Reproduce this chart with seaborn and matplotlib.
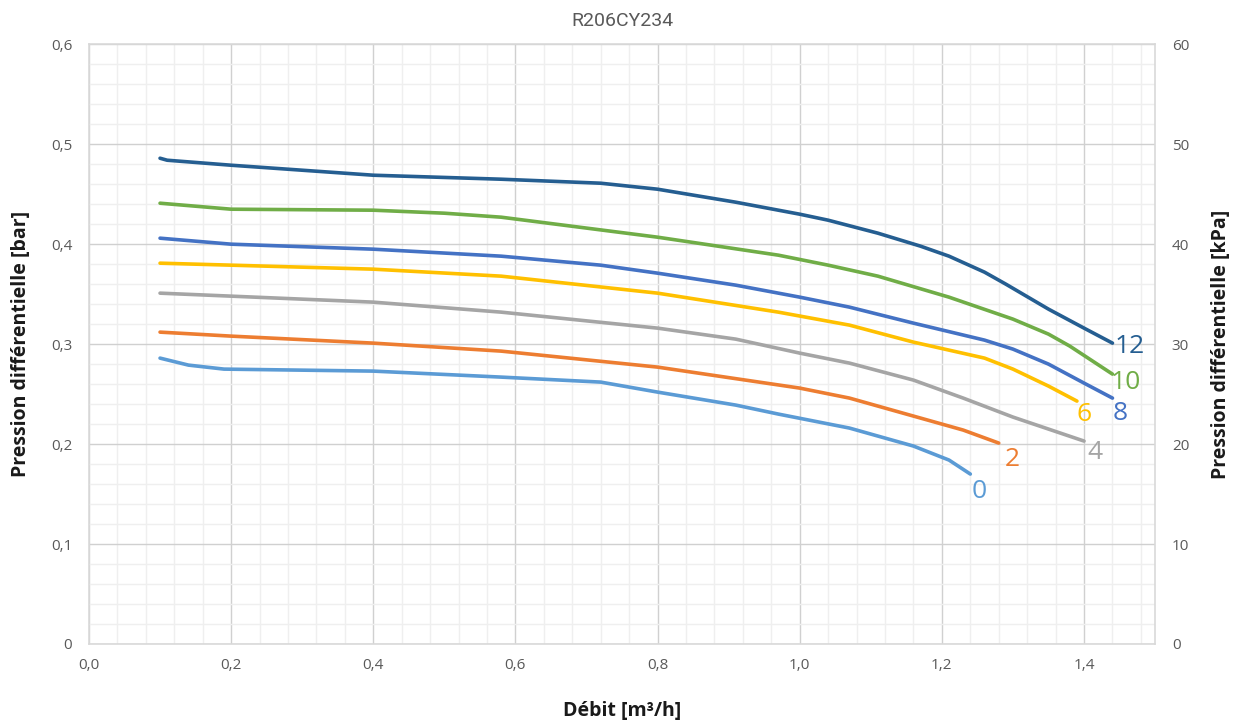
import numpy as np
import pandas as pd
import seaborn as sns
import matplotlib.pyplot as plt
from matplotlib.ticker import FuncFormatter, MultipleLocator

# debit [m3/h] and pressure [bar], one curve per speed setting
q_12 = [0.10, 0.11, 0.20, 0.40, 0.58, 0.72, 0.80, 0.91, 1.00, 1.04, 1.11, 1.17, 1.21, 1.26, 1.29, 1.35, 1.40, 1.44]
p_12 = [0.486, 0.484, 0.479, 0.469, 0.465, 0.461, 0.455, 0.442, 0.430, 0.424, 0.411, 0.398, 0.388, 0.372, 0.360, 0.335, 0.316, 0.301]

q_10 = [0.10, 0.20, 0.40, 0.50, 0.58, 0.80, 0.97, 1.04, 1.11, 1.21, 1.30, 1.35, 1.38, 1.41, 1.44]
p_10 = [0.441, 0.435, 0.434, 0.431, 0.427, 0.407, 0.389, 0.379, 0.368, 0.347, 0.325, 0.310, 0.298, 0.284, 0.270]

q_8 = [0.10, 0.20, 0.40, 0.58, 0.72, 0.80, 0.91, 1.00, 1.07, 1.16, 1.26, 1.30, 1.35, 1.40, 1.44]
p_8 = [0.406, 0.400, 0.395, 0.388, 0.379, 0.371, 0.359, 0.347, 0.337, 0.321, 0.304, 0.295, 0.280, 0.261, 0.246]

q_6 = [0.10, 0.20, 0.40, 0.58, 0.80, 0.97, 1.07, 1.16, 1.26, 1.30, 1.35, 1.39]
p_6 = [0.381, 0.379, 0.375, 0.368, 0.351, 0.332, 0.319, 0.302, 0.286, 0.275, 0.258, 0.243]

q_4 = [0.10, 0.20, 0.40, 0.58, 0.80, 0.91, 1.00, 1.07, 1.16, 1.23, 1.30, 1.40]
p_4 = [0.351, 0.348, 0.342, 0.332, 0.316, 0.305, 0.291, 0.281, 0.264, 0.246, 0.227, 0.203]

q_2 = [0.10, 0.20, 0.40, 0.58, 0.80, 1.00, 1.07, 1.16, 1.23, 1.28]
p_2 = [0.312, 0.308, 0.301, 0.293, 0.277, 0.256, 0.246, 0.228, 0.214, 0.201]

q_0 = [0.10, 0.14, 0.19, 0.40, 0.58, 0.72, 0.80, 0.91, 0.97, 1.07, 1.16, 1.21, 1.24]
p_0 = [0.286, 0.279, 0.275, 0.273, 0.267, 0.262, 0.252, 0.239, 0.230, 0.216, 0.198, 0.184, 0.170]

curves = [
    ("12", q_12, p_12, "#255e91", (0.003, -0.003)),
    ("10", q_10, p_10, "#70ad47", (-0.003, -0.008)),
    ("8", q_8, p_8, "#4472c4", (0.000, -0.015)),
    ("6", q_6, p_6, "#ffc000", (0.000, -0.013)),
    ("4", q_4, p_4, "#a5a5a5", (0.004, -0.011)),
    ("2", q_2, p_2, "#ed7d31", (0.008, -0.016)),
    ("0", q_0, p_0, "#5b9bd5", (0.002, -0.017)),
]

sns.set_style("white")
plt.rcParams["font.family"] = ["Open Sans", "DejaVu Sans"]

fig = plt.figure(figsize=(12.39, 7.26), dpi=100)
ax = fig.add_axes([0.0718, 0.113, 0.8605, 0.826])

for label, q, p, color, (dx, dy) in curves:
    df = pd.DataFrame({"q": q, "p": p})
    sns.lineplot(data=df, x="q", y="p", ax=ax, color=color, linewidth=2.6,
                 solid_capstyle="round", solid_joinstyle="round", zorder=3)
    ax.text(q[-1] + dx, p[-1] + dy, label, color=color, fontsize=19,
            va="center", ha="left", zorder=4)

ax.set_xlim(0, 1.5)
ax.set_ylim(0, 0.6)
ax.set_xticks(np.arange(0, 1.41, 0.2))
ax.set_yticks(np.arange(0, 0.61, 0.1))
ax.xaxis.set_minor_locator(MultipleLocator(0.04))
ax.yaxis.set_minor_locator(MultipleLocator(0.02))


def comma_fmt(v, pos):
    return f"{v:.1f}".replace(".", ",")


def y_fmt(v, pos):
    if abs(v) < 1e-9:
        return "0"
    return f"{v:.1f}".replace(".", ",")


ax.xaxis.set_major_formatter(FuncFormatter(comma_fmt))
ax.yaxis.set_major_formatter(FuncFormatter(y_fmt))
ax.grid(which="major", color="#d0d0d0", linewidth=1.0, zorder=0)
ax.grid(which="minor", color="#efefef", linewidth=1.0, zorder=0)
for s in ax.spines.values():
    s.set_color("#d9d9d9")
    s.set_linewidth(1.2)

ax2 = ax.twinx()
ax2.set_ylim(0, 60)
ax2.set_yticks(np.arange(0, 61, 10))
for s in ax2.spines.values():
    s.set_visible(False)

for a in (ax, ax2):
    a.tick_params(which="both", length=0, width=0, labelsize=11, labelcolor="#595959")
ax.tick_params(axis="x", pad=10)
ax.tick_params(axis="y", pad=12)
ax2.tick_params(axis="y", pad=12)

ax.set_xlabel("Débit [m³/h]", fontsize=14, fontweight="bold", color="#1a1a1a", labelpad=20)
ax.set_ylabel("Pression différentielle [bar]", fontsize=14, fontweight="bold", color="#1a1a1a", labelpad=14)
ax2.set_ylabel("Pression différentielle [kPa]", fontsize=14, fontweight="bold", color="#1a1a1a", labelpad=16)
ax.set_title("R206CY234", fontsize=14, color="#595959", family="Roboto", pad=13)

fig.savefig("out.png", dpi=100)
